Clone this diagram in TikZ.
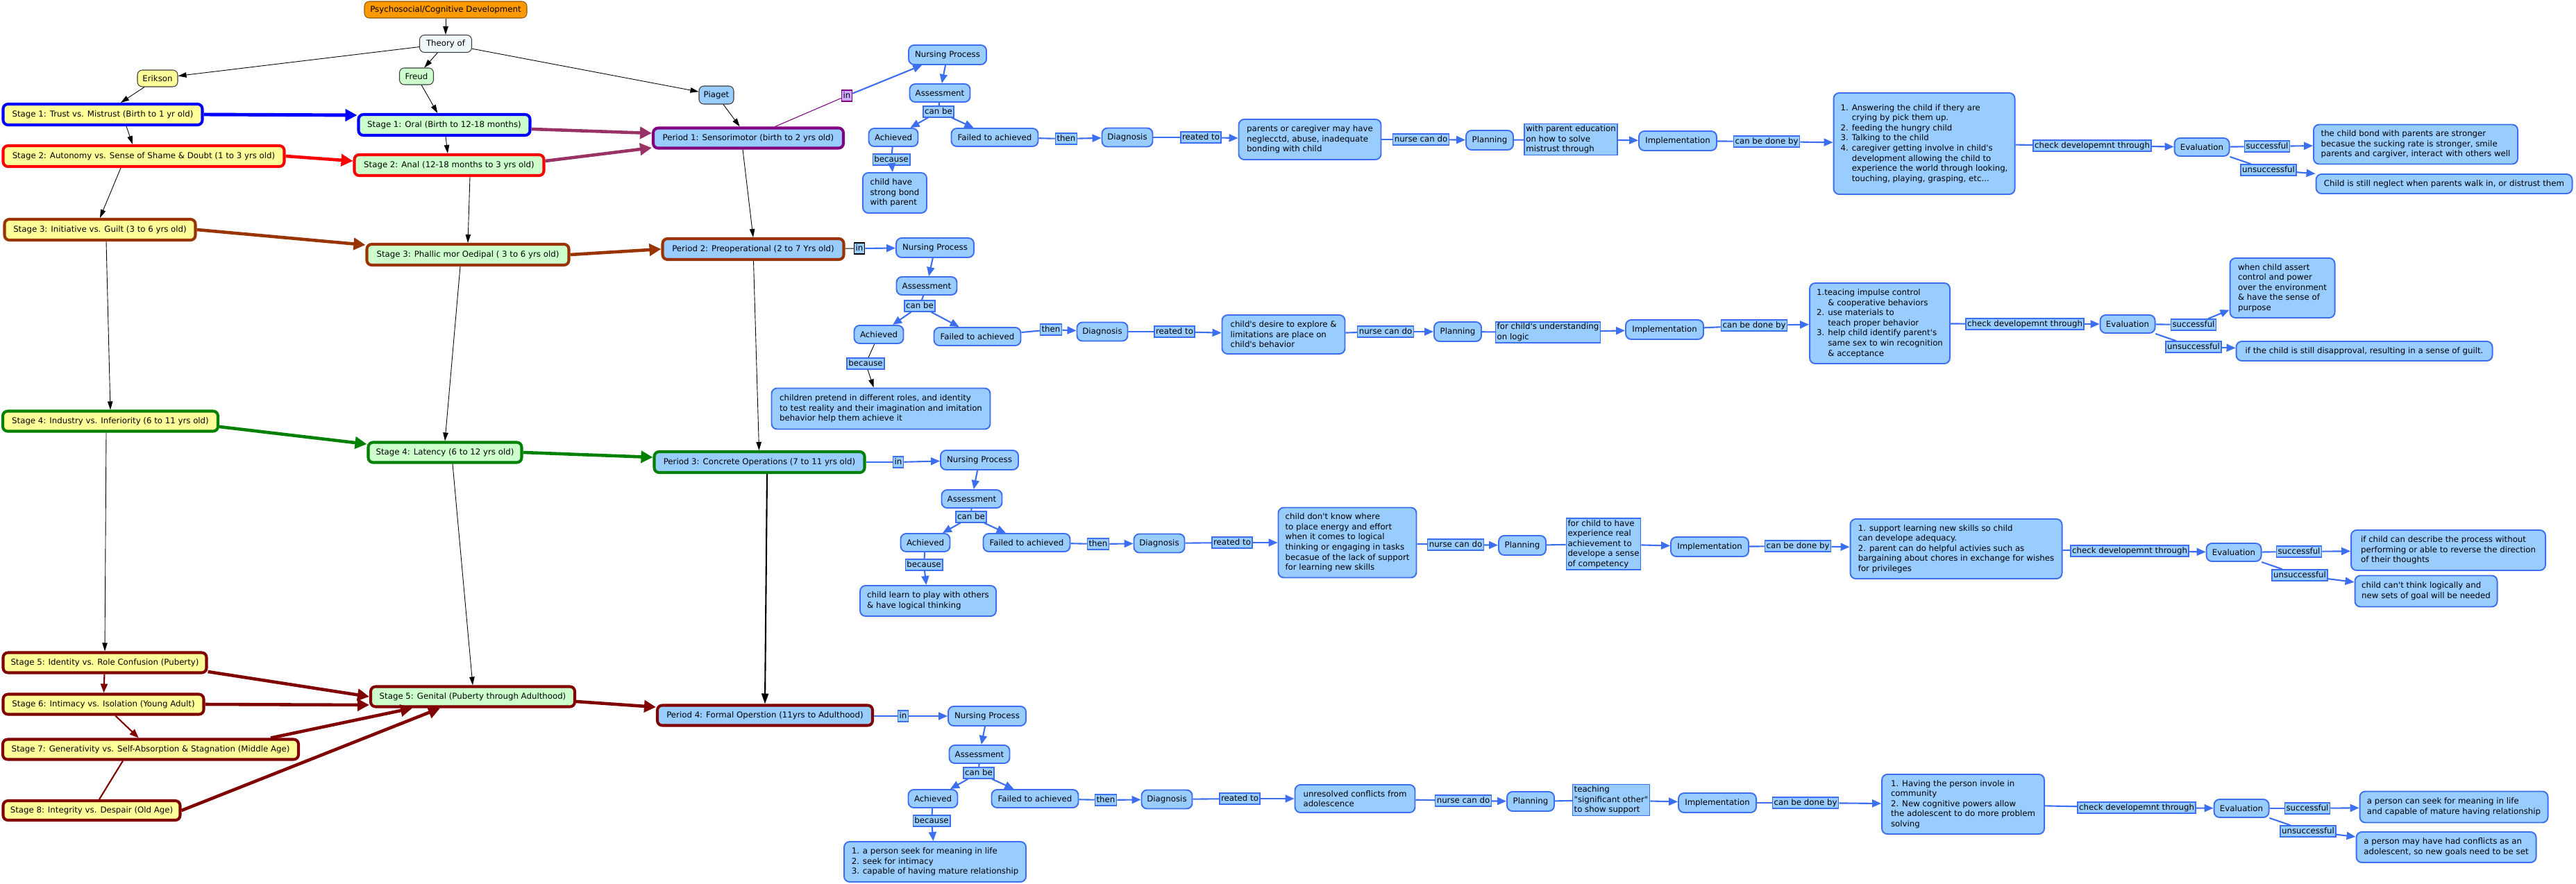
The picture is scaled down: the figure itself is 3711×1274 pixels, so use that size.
\documentclass[tikz,border=0pt]{standalone}
\usepackage{fontspec}
\usepackage{tikz}
\usetikzlibrary{arrows.meta}
\newfontfamily\mapfont{DejaVu Sans}
\newcommand{\mapsize}{\mapfont\fontsize{6.7pt}{8.3pt}\selectfont}
\definecolor{cmfill}{RGB}{153,204,255}
\definecolor{cmline}{RGB}{60,110,240}
\definecolor{eyellow}{RGB}{255,255,153}
\definecolor{fgreen}{RGB}{204,255,204}
\definecolor{rootfill}{RGB}{255,153,0}
\definecolor{rootline}{RGB}{140,90,20}
\definecolor{theoryfill}{RGB}{240,247,250}
\definecolor{headline}{RGB}{60,60,60}
\definecolor{stageone}{RGB}{0,0,255}
\definecolor{stagetwo}{RGB}{255,0,0}
\definecolor{stagethree}{RGB}{153,51,0}
\definecolor{stagefour}{RGB}{0,128,0}
\definecolor{stagelate}{RGB}{128,0,0}
\definecolor{sensoline}{RGB}{128,0,128}
\definecolor{mauve}{RGB}{153,51,102}
\definecolor{inlilac}{RGB}{204,170,255}

\begin{document}
\begin{tikzpicture}[x=0.02cm, y=-0.02cm,
    sz/.style 2 args={minimum width=#1*0.02cm, minimum height=#2*0.02cm},
    head/.style={draw=headline, fill=theoryfill, rounded corners=0.14cm, line width=0.6pt, font=\mapsize, inner sep=2pt},
    stagebox/.style={rounded corners=0.14cm, line width=2.3pt, font=\mapsize, inner sep=2pt},
    concept/.style={draw=cmline, fill=cmfill, rounded corners=0.16cm, line width=1.1pt, font=\mapsize, align=left, inner sep=2pt},
    phrase/.style={draw=cmline, fill=cmfill, line width=0.9pt, font=\mapsize, align=left, inner sep=1.2pt},
    tag/.style={phrase, text height=5.2pt, text depth=1.4pt},
    link/.style={cmline, line width=1.2pt},
    flow/.style={link, -{Triangle[length=0.26cm, width=0.22cm]}},
    thinarrow/.style={black, line width=0.5pt, -{Triangle[length=0.24cm, width=0.15cm]}},
    stagearrow/.style={line width=2.6pt, -{Triangle[length=0.34cm, width=0.34cm]}}
  ]
  \useasboundingbox (0,0) rectangle (3711,1274);

  % Top of the map
  \node[head, fill=rootfill, draw=rootline, sz={234}{24}] (root) at (642,14) {Psychosocial/Cognitive Development};
  \node[head, sz={75}{25}] (theory) at (642,63) {Theory of};
  \node[head, fill=eyellow, sz={58}{24}] (erikson) at (227,113) {Erikson};
  \node[head, fill=fgreen, sz={49}{24}] (freud) at (600,110) {Freud};
  \node[head, fill=cmfill, sz={50}{26}] (piaget) at (1032,137) {Piaget};

  % Erikson column
  \node[stagebox, fill=eyellow, draw=stageone, sz={287}{30}] (e1) at (148,165) {Stage 1: Trust vs. Mistrust (Birth to 1 yr old)};
  \node[stagebox, fill=eyellow, draw=stagetwo, sz={405}{30}] (e2) at (207,225) {Stage 2: Autonomy vs. Sense of Shame \& Doubt (1 to 3 yrs old)};
  \node[stagebox, fill=eyellow, draw=stagethree, sz={275}{30}] (e3) at (144,331) {Stage 3: Initiative vs. Guilt (3 to 6 yrs old)};
  \node[stagebox, fill=eyellow, draw=stagefour, sz={310}{29}] (e4) at (159,607) {Stage 4: Industry vs. Inferiority (6 to 11 yrs old)};
  \node[stagebox, fill=eyellow, draw=stagelate, sz={293}{29}] (e5) at (151,955) {Stage 5: Identity vs. Role Confusion (Puberty)};
  \node[stagebox, fill=eyellow, draw=stagelate, sz={289}{29}] (e6) at (149,1015) {Stage 6: Intimacy vs. Isolation (Young Adult)};
  \node[stagebox, fill=eyellow, draw=stagelate, sz={426}{29}] (e7) at (217,1080) {Stage 7: Generativity vs. Self-Absorption \& Stagnation (Middle Age)};
  \node[stagebox, fill=eyellow, draw=stagelate, sz={255}{28}] (e8) at (132,1168) {Stage 8: Integrity vs. Despair (Old Age)};

  % Freud column
  \node[stagebox, fill=fgreen, draw=stageone, sz={247}{30}] (f1) at (640,180) {Stage 1: Oral (Birth to 12-18 months)};
  \node[stagebox, fill=fgreen, draw=stagetwo, sz={273}{30}] (f2) at (647,238) {Stage 2: Anal (12-18 months to 3 yrs old)};
  \node[stagebox, fill=fgreen, draw=stagethree, sz={291}{30}] (f3) at (674,367) {Stage 3: Phallic mor Oedipal ( 3 to 6 yrs old)};
  \node[stagebox, fill=fgreen, draw=stagefour, sz={221}{29}] (f4) at (641,652) {Stage 4: Latency (6 to 12 yrs old)};
  \node[stagebox, fill=fgreen, draw=stagelate, sz={294}{29}] (f5) at (681,1004) {Stage 5: Genital (Puberty through Adulthood)};

  % Piaget column
  \node[stagebox, fill=cmfill, draw=sensoline, sz={274}{29}] (p1) at (1078,199) {Period 1: Sensorimotor (birth to 2 yrs old)};
  \node[stagebox, fill=cmfill, draw=stagethree, sz={261}{30}] (p2) at (1085,359) {Period 2: Preoperational (2 to 7 Yrs old)};
  \node[stagebox, fill=cmfill, draw=stagefour, sz={303}{30}] (p3) at (1094,666) {Period 3: Concrete Operations (7 to 11 yrs old)};
  \node[stagebox, fill=cmfill, draw=stagelate, sz={310}{29}] (p4) at (1102,1031) {Period 4: Formal Operstion (11yrs to Adulthood)};

  % Theory tree
  \draw[thinarrow] (root) -- (theory);
  \draw[thinarrow] (theory) -- (erikson);
  \draw[thinarrow] (theory) -- (freud);
  \draw[thinarrow] (theory) -- (piaget);
  \draw[thinarrow] (erikson) -- (e1);
  \draw[thinarrow] (freud) -- (f1);
  \draw[thinarrow] (piaget) -- (p1);

  % Down the columns
  \draw[thinarrow] ([xshift=0.68cm]e1.south) -- ([xshift=-0.32cm]e2.north);
  \draw[thinarrow] ([xshift=-0.66cm]e2.south) -- (e3.north);
  \draw[thinarrow] ([xshift=0.18cm]e3.south) -- (e4.north);
  \draw[thinarrow] ([xshift=-0.12cm]e4.south) -- (e5.north);
  \draw[stagelate, line width=1.2pt, -{Triangle[length=0.26cm, width=0.2cm]}] (e5) -- (e6);
  \draw[stagelate, line width=1.2pt, -{Triangle[length=0.26cm, width=0.2cm]}] (e6) -- (e7);
  \draw[stagelate, line width=1.2pt] ([xshift=-0.8cm]e7.south) -- ([xshift=0.22cm]e8.north);
  \draw[thinarrow] (f1) -- (f2);
  \draw[thinarrow] ([xshift=0.6cm]f2.south) -- (f3.north);
  \draw[thinarrow] ([xshift=-0.22cm]f3.south) -- (f4.north);
  \draw[thinarrow] ([xshift=0.22cm]f4.south) -- (f5.north);
  \draw[thinarrow] ([xshift=-0.16cm]p1.south) -- (p2.north);
  \draw[thinarrow] (p2) -- (p3);
  \draw[black, line width=1.2pt, -{Triangle[length=0.3cm, width=0.2cm]}] ([xshift=0.22cm]p3.south) -- (p4.north);

  % Across the columns
  \draw[stagearrow, stageone, line width=2.8pt] (e1.east) -- ([yshift=0.28cm]f1.west);
  \draw[stagearrow, stagetwo] (e2.east) -- ([yshift=0.12cm]f2.west);
  \draw[stagearrow, stagethree] (e3.east) -- ([yshift=0.28cm]f3.west);
  \draw[stagearrow, stagefour] ([yshift=-0.16cm]e4.east) -- ([yshift=0.24cm]f4.west);
  \draw[stagearrow, stagelate] ([yshift=-0.26cm]e5.east) -- (f5.west);
  \draw[stagearrow, stagelate] (e6.east) -- ([yshift=-0.24cm]f5.west);
  \draw[stagearrow, stagelate] ([xshift=3.46cm]e7.north) -- ([xshift=-1.74cm]f5.south);
  \draw[stagearrow, stagelate] (e8.east) -- ([xshift=-0.94cm]f5.south);
  \draw[stagearrow, mauve] ([yshift=-0.12cm]f1.east) -- ([yshift=0.14cm]p1.west);
  \draw[stagearrow, mauve] ([yshift=0.12cm]f2.east) -- ([yshift=-0.28cm]p1.west);
  \draw[stagearrow, stagethree] (f3.east) -- (p2.west);
  \draw[stagearrow, stagefour] (f4.east) -- ([yshift=0.14cm]p3.west);
  \draw[stagearrow, stagelate] ([yshift=-0.14cm]f5.east) -- ([yshift=0.24cm]p4.west);

  % Nursing process rows (A to D)
  \foreach \rw/\cx/\cy in {A/1365/79, B/1347/357, C/1411/663, D/1422/1032}
    \node[concept, sz={112}{28}] (np\rw) at (\cx,\cy) {Nursing Process};
  \foreach \rw/\cx/\cy in {A/1354/134, B/1335/412, C/1400/719, D/1411/1087}
    \node[concept, sz={87}{26}] (as\rw) at (\cx,\cy) {Assessment};
  \foreach \rw/\cx/\cy in {A/1287/198, B/1266/482, C/1333/782, D/1344/1151}
    \node[concept, sz={71}{26}] (ach\rw) at (\cx,\cy) {Achieved};
  \foreach \rw/\cx/\cy in {A/1433/198, B/1408/485, C/1479/782, D/1491/1151}
    \node[concept, sz={125}{26}] (fail\rw) at (\cx,\cy) {Failed to achieved};
  \foreach \rw/\cx/\cy in {A/1624/198, B/1588/478, C/1670/783, D/1681/1152}
    \node[concept, sz={73}{27}] (diag\rw) at (\cx,\cy) {Diagnosis};
  \foreach \rw/\cx/\cy in {A/2146/202, B/2100/478, C/2193/786, D/2205/1155}
    \node[concept, sz={68}{28}] (plan\rw) at (\cx,\cy) {Planning};
  \foreach \rw/\cx/\cy in {A/2417/203, B/2398/475, C/2463/788, D/2474/1157}
    \node[concept, sz={112}{28}] (impl\rw) at (\cx,\cy) {Implementation};
  \foreach \rw/\cx/\cy in {A/3172/212, B/3065/467, C/3218/796, D/3229/1165}
    \node[concept, sz={79}{26}] (eval\rw) at (\cx,\cy) {Evaluation};

  % Row A
  \node[concept, sz={92}{58}] (whyA) at (1289,278) {child have\\strong bond\\with parent};
  \node[concept, sz={205}{58}] (probA) at (1887,201) {parents or caregiver may have\\neglecctd, abuse, inadequate\\bonding with child};
  \node[concept, sz={261}{146}] (actA) at (2772,207) {1. Answering the child if thery are\\\hphantom{1. }crying by pick them up.\\2. feeding the hungry child\\3. Talking to the child\\4. caregiver getting involve in child's\\\hphantom{1. }development allowing the child to\\\hphantom{1. }experience the world through looking,\\\hphantom{1. }touching, playing, grasping, etc...};
  \node[concept, sz={294}{57}] (goodA) at (3480,208) {the child bond with parents are stronger\\becasue the sucking rate is stronger, smile\\parents and cargiver, interact with others well};
  \node[concept, sz={369}{28}] (badA) at (3521,265) {Child is still neglect when parents walk in, or distrust them};

  % Row B
  \node[concept, sz={315}{59}] (whyB) at (1269,589) {children pretend in different roles, and identity\\to test reality and their imagination and imitation\\behavior help them achieve it};
  \node[concept, sz={177}{56}] (probB) at (1849,482) {child's desire to explore \&\\limitations are place on\\child's behavior};
  \node[concept, sz={202}{116}] (actB) at (2708,466) {1.teacing impulse control\\\hphantom{1. }\& cooperative behaviors\\2. use materials to\\\hphantom{1. }teach proper behavior\\3. help child identify parent's\\\hphantom{1. }same sex to win recognition\\\hphantom{1. }\& acceptance};
  \node[concept, sz={151}{86}] (goodB) at (3288,415) {when child assert\\control and power\\over the environment\\\& have the sense of\\purpose};
  \node[concept, sz={369}{28}] (badB) at (3406,506) {if the child is still disapproval, resulting in a sense of guilt.};

  % Row C
  \node[concept, sz={196}{44}] (whyC) at (1337,866) {child learn to play with others\\\& have logical thinking};
  \node[concept, sz={199}{101}] (probC) at (1941,782) {child don't know where\\to place energy and effort\\when it comes to logical\\thinking or engaging in tasks\\becasue of the lack of support\\for learning new skills};
  \node[concept, sz={305}{86}] (actC) at (2818,791) {1. support learning new skills so child\\can develope adequacy.\\2. parent can do helpful activies such as\\bargaining about chores in exchange for wishes\\for privileges};
  \node[concept, sz={280}{58}] (goodC) at (3527,793) {if child can describe the process without\\performing or able to reverse the direction\\of their thoughts};
  \node[concept, sz={205}{45}] (badC) at (3495,852) {child can't think logically and\\new sets of goal will be needed};

  % Row D
  \node[concept, sz={262}{58}] (whyD) at (1347,1242) {1. a person seek for meaning in life\\2. seek for intimacy\\3. capable of having mature relationship};
  \node[concept, sz={173}{40}] (probD) at (1952,1151) {unresolved conflicts from\\adolescence};
  \node[concept, sz={234}{86}] (actD) at (2828,1159) {1. Having the person invole in\\community\\2. New cognitive powers allow\\the adolescent to do more problem\\solving};
  \node[concept, sz={271}{45}] (goodD) at (3535,1163) {a person can seek for meaning in life\\and capable of mature having relationship};
  \node[concept, sz={259}{44}] (badD) at (3524,1221) {a person may have had conflicts as an\\adolescent, so new goals need to be set};

  % Linking phrases
  \node[tag, draw=sensoline, fill=inlilac] (inA) at (1220,138) {in};
  \node[tag, draw=black] (inB) at (1238,358) {in};
  \foreach \rw/\cx/\cy in {C/1294/666, D/1301/1032}
    \node[tag] (in\rw) at (\cx,\cy) {in};
  \foreach \rw/\cx/\cy in {A/1352/161, B/1325/441, C/1399/745, D/1410/1114}
    \node[tag] (canbe\rw) at (\cx,\cy) {can be};
  \foreach \rw/\cx/\cy in {A/1284/230, B/1247/524, C/1331/814, D/1342/1183}
    \node[tag] (bec\rw) at (\cx,\cy) {because};
  \foreach \rw/\cx/\cy in {A/1536/200, B/1514/475, C/1582/784, D/1593/1153}
    \node[tag] (then\rw) at (\cx,\cy) {then};
  \foreach \rw/\cx/\cy in {A/1730/198, B/1692/478, C/1775/782, D/1786/1151}
    \node[tag] (reat\rw) at (\cx,\cy) {reated to};
  \foreach \rw/\cx/\cy in {A/2047/201, B/1996/478, C/2097/785, D/2108/1154}
    \node[tag] (nurse\rw) at (\cx,\cy) {nurse can do};
  \foreach \rw/\cx/\cy in {A/2545/204, B/2527/469, C/2590/787, D/2601/1157}
    \node[tag] (doneby\rw) at (\cx,\cy) {can be done by};
  \foreach \rw/\cx/\cy in {A/3014/210, B/2917/467, C/3068/794, D/3078/1164}
    \node[tag] (check\rw) at (\cx,\cy) {check developemnt through};
  \foreach \rw/\cx/\cy in {A/3266/211, B/3160/468, C/3312/795, D/3324/1165}
    \node[tag] (succ\rw) at (\cx,\cy) {successful};
  \foreach \rw/\cx/\cy in {A/3268/245, B/3160/500, C/3313/829, D/3325/1198}
    \node[tag] (unsucc\rw) at (\cx,\cy) {unsuccessful};
  \node[phrase] (plantxtA) at (2263,201) {with parent education\\on how to solve\\mistrust through};
  \node[phrase] (plantxtB) at (2230,479) {for child's understanding\\on logic};
  \node[phrase] (plantxtC) at (2310,784) {for child to have\\experience real\\achievement to\\develope a sense\\of competency};
  \node[phrase] (plantxtD) at (2321,1153) {teaching\\"significant other"\\to show support};

  % Periods into the nursing process
  \draw[sensoline, line width=0.6pt] (p1) -- (inA);
  \draw[black, line width=0.6pt] (p2) -- (inB);
  \draw[link] (p3) -- (inC);
  \draw[link] (p4) -- (inD);

  % Same chain in every row
  \foreach \rw in {A,B,C,D} {
    \draw[flow] (in\rw) -- (np\rw);
    \draw[flow] (np\rw) -- (as\rw);
    \draw[link] (as\rw) -- (canbe\rw);
    \draw[flow] (canbe\rw) -- (ach\rw);
    \draw[flow] (canbe\rw) -- (fail\rw);
    \draw[link] (fail\rw) -- (then\rw);
    \draw[flow] (then\rw) -- (diag\rw);
    \draw[link] (diag\rw) -- (reat\rw);
    \draw[flow] (reat\rw) -- (prob\rw);
    \draw[link] (prob\rw) -- (nurse\rw);
    \draw[flow] (nurse\rw) -- (plan\rw);
    \draw[link] (plan\rw) -- (plantxt\rw);
    \draw[flow] (plantxt\rw) -- (impl\rw);
    \draw[link] (impl\rw) -- (doneby\rw);
    \draw[flow] (doneby\rw) -- (act\rw);
    \draw[link] (act\rw) -- (check\rw);
    \draw[flow] (check\rw) -- (eval\rw);
    \draw[link] (eval\rw) -- (succ\rw);
    \draw[flow] (succ\rw) -- (good\rw);
    \draw[link] (eval\rw) -- (unsucc\rw);
    \draw[flow] (unsucc\rw) -- (bad\rw);
  }
  \foreach \rw in {A,C,D} {
    \draw[link] (ach\rw) -- (bec\rw);
    \draw[flow] (bec\rw) -- (why\rw);
  }
  \draw[black, line width=0.5pt] (achB) -- (becB);
  \draw[thinarrow] (becB) -- (whyB);
\end{tikzpicture}
\end{document}
